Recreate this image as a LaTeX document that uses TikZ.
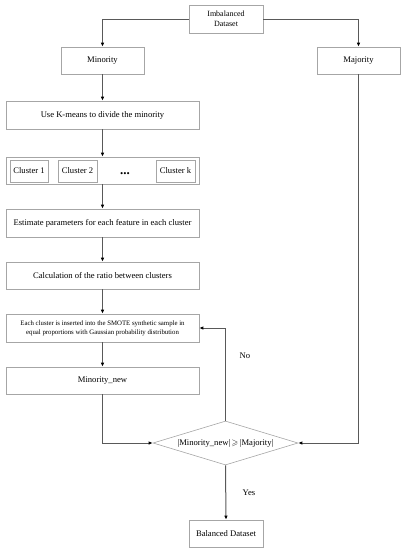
\documentclass[tikz,border=0pt]{standalone}
\usepackage{amssymb}
\usepackage{fontspec}
\setmainfont{Liberation Serif}
\usetikzlibrary{arrows.meta,shapes.geometric}
\begin{document}
\begin{tikzpicture}[x=1pt,y=-1pt,
  box/.style={draw=black!35, line width=0.6pt, fill=white, inner sep=1pt, align=center, font=\fontsize{8.6}{10}\selectfont},
  conn/.style={draw=black!65, line width=1pt, -{Latex[length=4pt,width=3.5pt,black]}},
  line/.style={draw=black!65, line width=1pt}]
\useasboundingbox (0,0) rectangle (404,550);
\node[box, minimum width=74pt, minimum height=28pt, font=\fontsize{8}{10}\selectfont] (imb) at (226,19) {Imbalanced\\Dataset};
\node[box, minimum width=83pt, minimum height=27pt] (min) at (102.5,60.5) {Minority};
\node[box, minimum width=83pt, minimum height=27pt] (maj) at (358.5,60.5) {Majority};
\node[box, minimum width=193pt, minimum height=28pt] (km) at (102.5,115) {Use K-means to divide the minority};
\node[box, minimum width=193pt, minimum height=27pt] (cl) at (102.5,170.5) {};
\node[box, minimum width=38pt, minimum height=22pt] (c1) at (29,171) {Cluster 1};
\node[box, minimum width=39pt, minimum height=22pt] (c2) at (77.5,171) {Cluster 2};
\node[box, minimum width=39pt, minimum height=22pt] (ck) at (175.5,171) {Cluster k};
\node[inner sep=0pt, font=\fontsize{13}{13}\selectfont\bfseries] (dots) at (125,174) {...};
\node[box, minimum width=193pt, minimum height=28pt] (est) at (102.5,223) {Estimate parameters for each feature in each cluster};
\node[box, minimum width=193pt, minimum height=27pt] (cal) at (102.5,275.5) {Calculation of the ratio between clusters};
\node[box, minimum width=193pt, minimum height=28pt, font=\fontsize{6.8}{9}\selectfont] (each) at (102.5,328) {Each cluster is inserted into the SMOTE synthetic sample in\\equal proportions with Gaussian probability distribution};
\node[box, minimum width=193pt, minimum height=27pt] (mnew) at (102.5,380.5) {Minority\_new};
\node[draw=black!35, line width=0.6pt, diamond, aspect=3.3, minimum width=145pt, minimum height=44pt, inner sep=0pt, font=\fontsize{8.6}{10}\selectfont] (dec) at (225.5,443) {|Minority\_new|\,$\geqslant$\,|Majority|};
\node[box, minimum width=74pt, minimum height=27pt] (bal) at (226,533.5) {Balanced Dataset};
\node[font=\fontsize{8.6}{10}\selectfont] (no) at (245,356) {No};
\node[font=\fontsize{8.6}{10}\selectfont] (yes) at (249,493) {Yes};
\draw[conn] (imb.west) -| (min.north);
\draw[conn] (imb.east) -| (maj.north);
\draw[conn] (min) -- (km);
\draw[conn] (km) -- (cl);
\draw[conn] (cl) -- (est);
\draw[conn] (est) -- (cal);
\draw[conn] (cal) -- (each);
\draw[conn] (each) -- (mnew);
\draw[conn] (mnew.south) |- (dec.west);
\draw[conn] (maj.south) |- (dec.east);
\draw[conn] (dec.north) |- (each.east);
\draw[conn] (dec.south) -- (bal.north);
\end{tikzpicture}
\end{document}
